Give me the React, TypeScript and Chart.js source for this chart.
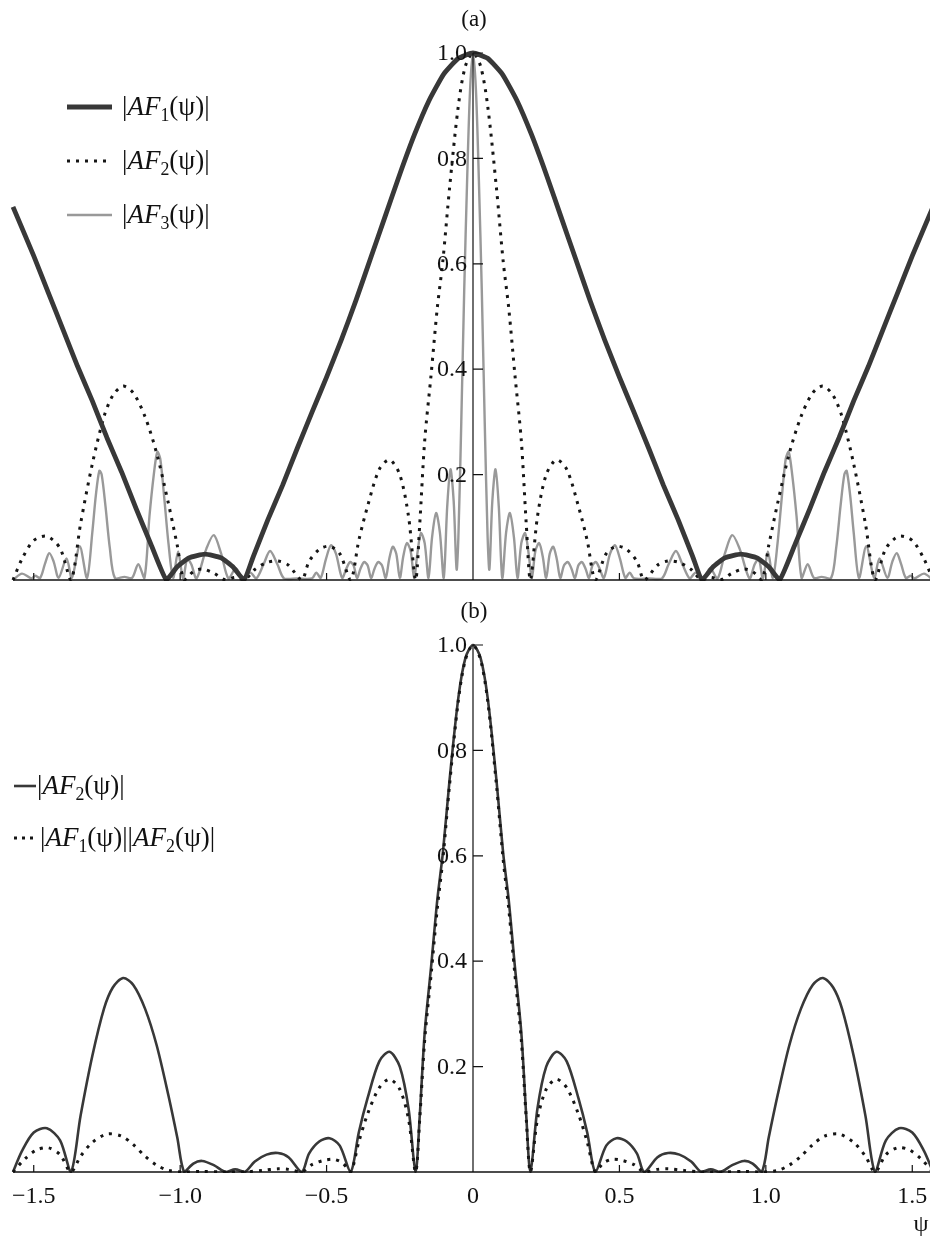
import React, { useEffect, useRef } from "react";
import { Chart, registerables } from "chart.js";

Chart.register(...registerables);

type Pt = [number, number];

// ---------- axis / text data ----------
const PSI_RANGE = [-1.5708, 1.5708];
const X_TICKS = [-1.5, -1.0, -0.5, 0, 0.5, 1.0, 1.5];
const X_TICK_LABELS = ["\u22121.5", "\u22121.0", "\u22120.5", "0", "0.5", "1.0", "1.5"];
const Y_TICKS = [0.2, 0.4, 0.6, 0.8, 1.0];
const Y_TICK_LABELS = ["0.2", "0.4", "0.6", "0.8", "1.0"];
const PANEL_TITLES = ["(a)", "(b)"];
const X_AXIS_NAME = "ψ";
const SERIES_A = ["|AF1(ψ)|", "|AF2(ψ)|", "|AF3(ψ)|"];
const SERIES_B = ["|AF2(ψ)|", "|AF1(ψ)||AF2(ψ)|"];

// ---------- series (ψ, value) ----------
const AF1: Pt[] = [
  [-1.5708, 0.708], [-1.5, 0.615], [-1.45, 0.545], [-1.4, 0.475], [-1.35, 0.405], [-1.3, 0.34],
  [-1.25, 0.27], [-1.2, 0.205], [-1.15, 0.135], [-1.1, 0.068], [-1.047, 0],
  [-1.01, 0.025], [-0.97, 0.042], [-0.915, 0.049], [-0.86, 0.042], [-0.82, 0.025], [-0.782, 0],
  [-0.75, 0.045], [-0.7, 0.115], [-0.65, 0.18], [-0.6, 0.25], [-0.55, 0.318], [-0.5, 0.385],
  [-0.45, 0.455], [-0.4, 0.53], [-0.35, 0.61], [-0.3, 0.69], [-0.25, 0.77], [-0.2, 0.845],
  [-0.15, 0.91], [-0.1, 0.96], [-0.05, 0.99], [0, 1.0],
  [0.05, 0.99], [0.1, 0.96], [0.15, 0.91], [0.2, 0.845], [0.25, 0.77], [0.3, 0.69],
  [0.35, 0.61], [0.4, 0.53], [0.45, 0.455], [0.5, 0.385], [0.55, 0.318], [0.6, 0.25],
  [0.65, 0.18], [0.7, 0.115], [0.75, 0.045], [0.782, 0],
  [0.82, 0.025], [0.86, 0.042], [0.915, 0.049], [0.97, 0.042], [1.01, 0.025], [1.047, 0],
  [1.1, 0.068], [1.15, 0.135], [1.2, 0.205], [1.25, 0.27], [1.3, 0.34], [1.35, 0.405],
  [1.4, 0.475], [1.45, 0.545], [1.5, 0.615], [1.5708, 0.708],
];

const AF2: Pt[] = [
  [-1.5708, 0], [-1.54, 0.04], [-1.5, 0.075], [-1.455, 0.083], [-1.41, 0.06], [-1.373, 0],
  [-1.34, 0.107], [-1.3, 0.22], [-1.26, 0.31], [-1.23, 0.35], [-1.195, 0.368], [-1.16, 0.355],
  [-1.12, 0.31], [-1.08, 0.24], [-1.04, 0.145], [-1.01, 0.066], [-0.986, 0],
  [-0.955, 0.016], [-0.925, 0.021], [-0.885, 0.013], [-0.845, 0], [-0.812, 0.005], [-0.78, 0],
  [-0.745, 0.02], [-0.705, 0.033], [-0.666, 0.036], [-0.63, 0.028], [-0.585, 0],
  [-0.56, 0.035], [-0.525, 0.058], [-0.49, 0.064], [-0.455, 0.05], [-0.418, 0],
  [-0.39, 0.075], [-0.36, 0.14], [-0.32, 0.21], [-0.285, 0.228], [-0.25, 0.2], [-0.22, 0.12], [-0.196, 0],
  [-0.182, 0.105], [-0.165, 0.264], [-0.143, 0.39], [-0.122, 0.516], [-0.103, 0.605], [-0.08, 0.744],
  [-0.05, 0.9], [-0.026, 0.975], [0, 1.0],
  [0.026, 0.975], [0.05, 0.9], [0.08, 0.744], [0.103, 0.605], [0.122, 0.516], [0.143, 0.39],
  [0.165, 0.264], [0.182, 0.105], [0.196, 0],
  [0.22, 0.12], [0.25, 0.2], [0.285, 0.228], [0.32, 0.21], [0.36, 0.14], [0.39, 0.075], [0.418, 0],
  [0.455, 0.05], [0.49, 0.064], [0.525, 0.058], [0.56, 0.035], [0.585, 0],
  [0.63, 0.028], [0.666, 0.036], [0.705, 0.033], [0.745, 0.02], [0.78, 0],
  [0.812, 0.005], [0.845, 0], [0.885, 0.013], [0.925, 0.021], [0.955, 0.016], [0.986, 0],
  [1.01, 0.066], [1.04, 0.145], [1.08, 0.24], [1.12, 0.31], [1.16, 0.355], [1.195, 0.368],
  [1.23, 0.35], [1.26, 0.31], [1.3, 0.22], [1.34, 0.107], [1.373, 0],
  [1.41, 0.06], [1.455, 0.083], [1.5, 0.075], [1.54, 0.04], [1.5708, 0],
];

const AF3: Pt[] = [
  [-1.5708, 0], [-1.54, 0.012], [-1.508, 0.003], [-1.495, 0.008], [-1.478, 0.004],
  [-1.462, 0.03], [-1.447, 0.051], [-1.432, 0.035], [-1.415, 0.004], [-1.388, 0.041],
  [-1.37, 0.004], [-1.343, 0.064], [-1.318, 0.004], [-1.3, 0.09], [-1.288, 0.16],
  [-1.276, 0.207], [-1.268, 0.2], [-1.255, 0.14], [-1.24, 0.06], [-1.223, 0.004],
  [-1.19, 0.006], [-1.164, 0.004], [-1.143, 0.03], [-1.122, 0.004], [-1.105, 0.12],
  [-1.09, 0.2], [-1.078, 0.243], [-1.068, 0.23], [-1.055, 0.16], [-1.04, 0.07], [-1.024, 0.004],
  [-1.007, 0.054], [-0.99, 0.003], [-0.976, 0.04], [-0.962, 0.03], [-0.944, 0.003],
  [-0.91, 0.06], [-0.885, 0.085], [-0.86, 0.05], [-0.835, 0.003], [-0.81, 0.022], [-0.785, 0.003],
  [-0.76, 0.014], [-0.74, 0.003], [-0.715, 0.03], [-0.693, 0.055], [-0.668, 0.03], [-0.645, 0.003],
  [-0.6, 0.003], [-0.55, 0.003], [-0.535, 0.014], [-0.52, 0.004], [-0.502, 0.04], [-0.485, 0.066],
  [-0.468, 0.05], [-0.447, 0.004], [-0.432, 0.022], [-0.42, 0.034], [-0.408, 0.028], [-0.396, 0.004],
  [-0.384, 0.022], [-0.372, 0.034], [-0.36, 0.028], [-0.348, 0.004], [-0.336, 0.022], [-0.324, 0.034],
  [-0.311, 0.028], [-0.298, 0.004], [-0.286, 0.04], [-0.274, 0.063], [-0.262, 0.05], [-0.25, 0.004],
  [-0.238, 0.045], [-0.226, 0.07], [-0.213, 0.055], [-0.201, 0.004], [-0.19, 0.05], [-0.178, 0.089],
  [-0.165, 0.07], [-0.152, 0.004], [-0.14, 0.08], [-0.126, 0.127], [-0.113, 0.09], [-0.1, 0.004],
  [-0.088, 0.14], [-0.077, 0.21], [-0.066, 0.15], [-0.056, 0.02], [-0.05, 0.08], [-0.04, 0.3],
  [-0.03, 0.55], [-0.02, 0.76], [-0.01, 0.93], [0, 1.0],
  [0.01, 0.93], [0.02, 0.76], [0.03, 0.55], [0.04, 0.3], [0.05, 0.08], [0.056, 0.02],
  [0.066, 0.15], [0.077, 0.21], [0.088, 0.14], [0.1, 0.004], [0.113, 0.09], [0.126, 0.127],
  [0.14, 0.08], [0.152, 0.004], [0.165, 0.07], [0.178, 0.089], [0.19, 0.05], [0.201, 0.004],
  [0.213, 0.055], [0.226, 0.07], [0.238, 0.045], [0.25, 0.004], [0.262, 0.05], [0.274, 0.063],
  [0.286, 0.04], [0.298, 0.004], [0.311, 0.028], [0.324, 0.034], [0.336, 0.022], [0.348, 0.004],
  [0.36, 0.028], [0.372, 0.034], [0.384, 0.022], [0.396, 0.004], [0.408, 0.028], [0.42, 0.034],
  [0.432, 0.022], [0.447, 0.004], [0.468, 0.05], [0.485, 0.066], [0.502, 0.04], [0.52, 0.004],
  [0.535, 0.014], [0.55, 0.003], [0.6, 0.003], [0.645, 0.003], [0.668, 0.03], [0.693, 0.055],
  [0.715, 0.03], [0.74, 0.003], [0.76, 0.014], [0.785, 0.003], [0.81, 0.022], [0.835, 0.003],
  [0.86, 0.05], [0.885, 0.085], [0.91, 0.06], [0.944, 0.003], [0.962, 0.03], [0.976, 0.04],
  [0.99, 0.003], [1.007, 0.054], [1.024, 0.004], [1.04, 0.07], [1.055, 0.16], [1.068, 0.23],
  [1.078, 0.243], [1.09, 0.2], [1.105, 0.12], [1.122, 0.004], [1.143, 0.03], [1.164, 0.004],
  [1.19, 0.006], [1.223, 0.004], [1.24, 0.06], [1.255, 0.14], [1.268, 0.2], [1.276, 0.207],
  [1.288, 0.16], [1.3, 0.09], [1.318, 0.004], [1.343, 0.064], [1.37, 0.004], [1.388, 0.041],
  [1.415, 0.004], [1.432, 0.035], [1.447, 0.051], [1.462, 0.03], [1.478, 0.004], [1.495, 0.008],
  [1.508, 0.003], [1.54, 0.012], [1.5708, 0],
];

const AF1xAF2: Pt[] = [
  [-1.5708, 0], [-1.53, 0.025], [-1.49, 0.042], [-1.45, 0.046], [-1.41, 0.033], [-1.373, 0],
  [-1.34, 0.03], [-1.3, 0.056], [-1.25, 0.072], [-1.2, 0.068], [-1.16, 0.052], [-1.12, 0.03],
  [-1.08, 0.013], [-1.04, 0.003], [-0.986, 0], [-0.93, 0.001], [-0.845, 0], [-0.78, 0],
  [-0.72, 0.003], [-0.666, 0.006], [-0.63, 0.005], [-0.585, 0],
  [-0.55, 0.014], [-0.51, 0.022], [-0.475, 0.024], [-0.445, 0.017], [-0.418, 0],
  [-0.39, 0.057], [-0.36, 0.11], [-0.32, 0.16], [-0.285, 0.176], [-0.25, 0.157], [-0.22, 0.1], [-0.196, 0],
  [-0.182, 0.1], [-0.165, 0.25], [-0.143, 0.375], [-0.122, 0.5], [-0.103, 0.593], [-0.08, 0.735],
  [-0.05, 0.895], [-0.026, 0.972], [0, 1.0],
  [0.026, 0.972], [0.05, 0.895], [0.08, 0.735], [0.103, 0.593], [0.122, 0.5], [0.143, 0.375],
  [0.165, 0.25], [0.182, 0.1], [0.196, 0],
  [0.22, 0.1], [0.25, 0.157], [0.285, 0.176], [0.32, 0.16], [0.36, 0.11], [0.39, 0.057], [0.418, 0],
  [0.445, 0.017], [0.475, 0.024], [0.51, 0.022], [0.55, 0.014], [0.585, 0],
  [0.63, 0.005], [0.666, 0.006], [0.72, 0.003], [0.78, 0], [0.845, 0], [0.93, 0.001], [0.986, 0],
  [1.04, 0.003], [1.08, 0.013], [1.12, 0.03], [1.16, 0.052], [1.2, 0.068], [1.25, 0.072],
  [1.3, 0.056], [1.34, 0.03], [1.373, 0],
  [1.41, 0.033], [1.45, 0.046], [1.49, 0.042], [1.53, 0.025], [1.5708, 0],
];

// ---------- styles ----------
const COL_THICK = "#383838";
const COL_GRAY = "#999999";
const COL_DOT = "#151515";
const SERIF = "'Liberation Serif', 'Times New Roman', serif";
const CLIP = { left: 6, right: 6, top: 8, bottom: 1 };

const toXY = (pts: Pt[]) => pts.map(([x, y]) => ({ x, y }));

const axesPlugin = {
  id: "psiAxes",
  afterDatasetsDraw(chart: any, _args: any, opts: any) {
    const { ctx, chartArea } = chart;
    const xs = chart.scales.x;
    const ys = chart.scales.y;
    const x0 = xs.getPixelForValue(0);
    const y0 = ys.getPixelForValue(0);
    const yTop = ys.getPixelForValue(1);
    ctx.save();
    ctx.strokeStyle = "#111";
    ctx.lineWidth = 1.6;
    ctx.beginPath();
    ctx.moveTo(chartArea.left, y0);
    ctx.lineTo(chartArea.right, y0);
    ctx.stroke();
    ctx.lineWidth = 1.2;
    ctx.beginPath();
    ctx.moveTo(x0, y0);
    ctx.lineTo(x0, yTop);
    X_TICKS.forEach((v) => {
      if (v === 0) return;
      const px = xs.getPixelForValue(v);
      ctx.moveTo(px, y0);
      ctx.lineTo(px, y0 - 7);
    });
    Y_TICKS.forEach((v) => {
      const py = ys.getPixelForValue(v);
      ctx.moveTo(x0, py);
      ctx.lineTo(x0 + 10, py);
    });
    ctx.stroke();

    ctx.fillStyle = "#111";
    ctx.font = `24px ${SERIF}`;
    ctx.textAlign = "right";
    ctx.textBaseline = "middle";
    Y_TICKS.forEach((v, i) => {
      ctx.fillText(Y_TICK_LABELS[i], x0 - 6, ys.getPixelForValue(v) + 1);
    });
    if (opts.xLabels) {
      ctx.textAlign = "center";
      X_TICKS.forEach((v, i) => {
        ctx.fillText(X_TICK_LABELS[i], xs.getPixelForValue(v), y0 + 25);
      });
      ctx.fillText(X_AXIS_NAME, xs.getPixelForValue(PSI_RANGE[1]) - 12, y0 + 53);
    }
    if (opts.title) {
      ctx.textAlign = "center";
      ctx.font = `23px ${SERIF}`;
      ctx.fillText(opts.title, x0 + 1, yTop - 33);
    }
    ctx.restore();
  },
};

function baseOptions(padding: any, axesOpts: any) {
  return {
    responsive: false,
    animation: false as const,
    devicePixelRatio: 1,
    layout: { padding },
    plugins: {
      legend: { display: false },
      tooltip: { enabled: false },
      psiAxes: axesOpts,
    },
    elements: { point: { radius: 0 }, line: { tension: 0 } },
    scales: {
      x: { type: "linear" as const, min: PSI_RANGE[0], max: PSI_RANGE[1], display: false },
      y: { type: "linear" as const, min: 0, max: 1, display: false },
    },
  };
}

function PanelChart({ kind }: { kind: "a" | "b" }) {
  const ref = useRef<HTMLCanvasElement | null>(null);
  useEffect(() => {
    if (!ref.current) return;
    let cfg: any;
    if (kind === "a") {
      cfg = {
        type: "line",
        data: {
          datasets: [
            { label: SERIES_A[0], data: toXY(AF1), borderColor: COL_THICK, borderWidth: 4.8, order: 0, clip: CLIP, tension: 0.15, borderJoinStyle: "round" },
            { label: SERIES_A[1], data: toXY(AF2), borderColor: COL_DOT, borderWidth: 3, borderDash: [3, 6], order: 1, clip: CLIP, tension: 0.3 },
            { label: SERIES_A[2], data: toXY(AF3), borderColor: COL_GRAY, borderWidth: 2.4, order: 2, clip: CLIP, tension: 0.3, borderJoinStyle: "round" },
          ],
        },
        options: baseOptions({ left: 13, right: 7, top: 53, bottom: 20 }, { title: PANEL_TITLES[0], xLabels: false }),
        plugins: [axesPlugin],
      };
    } else {
      cfg = {
        type: "line",
        data: {
          datasets: [
            { label: SERIES_B[0], data: toXY(AF2), borderColor: COL_THICK, borderWidth: 2.6, order: 1, clip: CLIP, tension: 0.3, borderJoinStyle: "round" },
            { label: SERIES_B[1], data: toXY(AF1xAF2), borderColor: COL_DOT, borderWidth: 3, borderDash: [3, 6], order: 0, clip: CLIP, tension: 0.3 },
          ],
        },
        options: baseOptions({ left: 13, right: 7, top: 55, bottom: 64 }, { title: PANEL_TITLES[1], xLabels: true }),
        plugins: [axesPlugin],
      };
    }
    const chart = new Chart(ref.current, cfg);
    return () => chart.destroy();
  }, [kind]);
  return kind === "a" ? (
    <canvas ref={ref} width={940} height={600} style={{ position: "absolute", left: 0, top: 0, width: 940, height: 600 }} />
  ) : (
    <canvas ref={ref} width={940} height={646} style={{ position: "absolute", left: 0, top: 590, width: 940, height: 646 }} />
  );
}

function AFLabel({ sub }: { sub: string }) {
  return (
    <span>
      |<i>AF</i>
      <span style={{ fontSize: "0.66em", position: "relative", top: "0.32em" }}>{sub}</span>(ψ)|
    </span>
  );
}

function Sample({ left, top, width, color, lw, dash }: { left: number; top: number; width: number; color: string; lw: number; dash?: string }) {
  return (
    <svg width={width} height={10} style={{ position: "absolute", left, top: top - 5 }}>
      <line x1={0} y1={5} x2={width} y2={5} stroke={color} strokeWidth={lw} strokeDasharray={dash} />
    </svg>
  );
}

const textStyle = (left: number, center: number): React.CSSProperties => ({
  position: "absolute",
  left,
  top: center - 17,
  height: 34,
  lineHeight: "34px",
  fontFamily: SERIF,
  fontSize: 27,
  color: "#111",
  whiteSpace: "nowrap",
});

export default function App() {
  return (
    <div style={{ position: "absolute", left: 0, top: 0, width: 930, height: 1236, overflow: "hidden", background: "#fff" }}>
      <PanelChart kind="a" />
      <PanelChart kind="b" />
      {/* legend (a) */}
      <Sample left={67} top={107} width={45} color={COL_THICK} lw={4.8} />
      <div style={textStyle(122, 106)}><AFLabel sub="1" /></div>
      <Sample left={67} top={161} width={45} color={COL_DOT} lw={3} dash="3 6" />
      <div style={textStyle(122, 160)}><AFLabel sub="2" /></div>
      <Sample left={67} top={215} width={45} color={COL_GRAY} lw={2.4} />
      <div style={textStyle(122, 214)}><AFLabel sub="3" /></div>
      {/* legend (b) */}
      <Sample left={14} top={786} width={22} color={COL_THICK} lw={2.6} />
      <div style={textStyle(37, 785)}><AFLabel sub="2" /></div>
      <Sample left={14} top={838} width={24} color={COL_DOT} lw={3} dash="3 5" />
      <div style={textStyle(40, 837)}><AFLabel sub="1" /><AFLabel sub="2" /></div>
    </div>
  );
}
